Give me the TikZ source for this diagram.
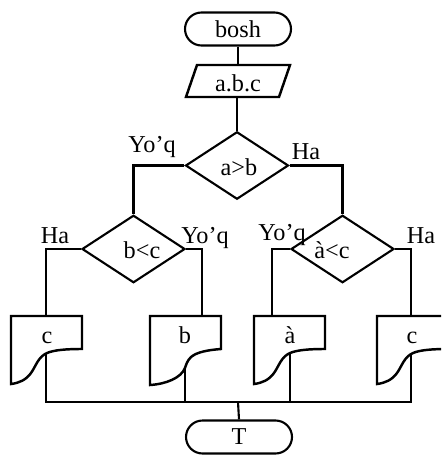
\documentclass[tikz,border=0pt]{standalone}
\usepackage{fontspec}
\setmainfont{Liberation Serif}
\usetikzlibrary{shapes.geometric}
\tikzset{
  term/.style={draw, line width=1.2pt, minimum width=2.12cm, minimum height=0.66cm, inner sep=0pt, rounded corners=0.33cm},
  decide/.style={draw, diamond, line width=1.2pt, minimum width=2.06cm, minimum height=1.35cm, inner sep=0pt},
  lbl/.style={anchor=base, inner sep=0pt},
  conn/.style={line width=1.2pt},
  shapeline/.style={line width=1.4pt, line join=miter},
}
\begin{document}
\begin{tikzpicture}[x=0.02cm, y=-0.02cm, font=\fontsize{13.8}{16}\selectfont]
\useasboundingbox (0,0) rectangle (441,456);
\clip (0,0) rectangle (441,456);

% start / end
\node[term] (start) at (238,29) {bosh};
\node[term] (stop) at (239,437) {T};

% input parallelogram
\draw[shapeline] (197,65) coordinate (pTL) -- (290,65) -- (279,97) -- (186,97) -- cycle;
\node[inner sep=0pt] (inp) at (238,83) {a.b.c};
\coordinate (inTop) at (238,65);
\coordinate (inBot) at (237,97);

% decisions
\node[decide] (d1) at (237,165.5) {};
\node[decide] (d2) at (133.5,249) {};
\node[decide] (d3) at (342.5,249) {};
\node[lbl] (d1t) at (239,175) {a>b};
\node[lbl] (d2t) at (142,258) {b<c};
\node[lbl] (d3t) at (332,258) {à<c};

% branch labels
\node[lbl] (l1) at (152,152) {Yo'q};
\node[lbl] (l2) at (306,159) {Ha};
\node[lbl] (l3) at (55,243) {Ha};
\node[lbl] (l4) at (205,243) {Yo'q};
\node[lbl] (l5) at (282,240) {Yo'q};
\node[lbl] (l6) at (421,243) {Ha};

% document (display) boxes
\begin{scope}[shift={(11,316)}]
  \draw[shapeline] (0,0) -- (71,0) -- (71,33) .. controls (55,33) and (43,34) .. (36,37) .. controls (27,41) and (25,50) .. (20,57) .. controls (15,64) and (8,67) .. (0,68) -- cycle;
  \coordinate (b1in) at (35,0);
  \coordinate (b1out) at (35,37.5);
  \node[lbl] (b1t) at (36,27) {c};
\end{scope}
\begin{scope}[shift={(150,316)}]
  \draw[shapeline] (0,0) -- (71,0) -- (71,33) .. controls (58,34) and (47,36) .. (41,41) .. controls (37,45) and (36,49) .. (35,52) .. controls (31,62) and (16,68) .. (0,69) -- cycle;
  \coordinate (b2in) at (52,0);
  \coordinate (b2out) at (35,52);
  \node[lbl] (b2t) at (35,27) {b};
\end{scope}
\begin{scope}[shift={(254,316)}]
  \draw[shapeline] (0,0) -- (71,0) -- (71,33) .. controls (55,33) and (43,34) .. (36,37) .. controls (27,41) and (25,50) .. (20,57) .. controls (15,64) and (8,67) .. (0,68) -- cycle;
  \coordinate (b3in) at (18,0);
  \coordinate (b3out) at (36,37);
  \node[lbl] (b3t) at (36,27) {à};
\end{scope}
\begin{scope}[shift={(377,316)}]
  \draw[shapeline] (0,0) -- (71,0) -- (71,33) .. controls (55,33) and (43,34) .. (36,37) .. controls (27,41) and (25,50) .. (20,57) .. controls (15,64) and (8,67) .. (0,68) -- cycle;
  \coordinate (b4in) at (34,0);
  \coordinate (b4out) at (34,37.6);
  \node[lbl] (b4t) at (35,27) {c};
\end{scope}

% connectors
\draw[conn] (start.south) -- (inTop);
\draw[conn] (inBot) -- (d1.north);
\draw[conn] (d1.west) -| (d2.north);
\draw[conn] (d1.east) -| (d3.north);
\draw[conn] (d2.west) -| (b1in);
\draw[conn] (d2.east) -| (b2in);
\draw[conn] (d3.west) -| (b3in);
\draw[conn] (d3.east) -| (b4in);
\coordinate (bus1) at (46,402);
\coordinate (bus4) at (411,402);
\coordinate (busc) at (238,402);
\draw[conn] (b1out) -- (bus1) -- (bus4) -- (b4out);
\draw[conn] (b2out) -- (b2out |- bus1);
\draw[conn] (b3out) -- (b3out |- bus1);
\draw[conn] (busc) -- (stop.north);
\end{tikzpicture}
\end{document}
